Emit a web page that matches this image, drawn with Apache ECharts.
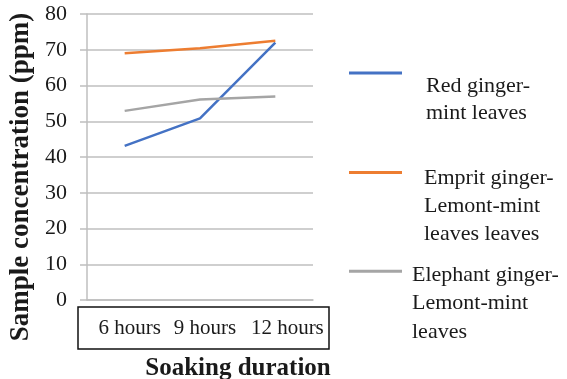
<!DOCTYPE html>
<html>
<head>
<meta charset="utf-8">
<script src="https://cdn.jsdelivr.net/npm/echarts@6/dist/echarts.min.js"></script>
<style>html,body{margin:0;padding:0;background:#fff}#c{width:567px;height:379px}</style>
</head>
<body>
<div id="c"></div>
<script>
var categories = ['6 hours', '9 hours', '12 hours'];
var seriesNames = ['Red ginger-\nmint leaves', 'Emprit ginger-\nLemont-mint\nleaves leaves', 'Elephant ginger-\nLemont-mint\nleaves'];
var redGinger = [43.1, 50.8, 72.0];
var empritGinger = [69.0, 70.4, 72.5];
var elephantGinger = [52.9, 56.1, 56.9];
var yTicks = [0, 10, 20, 30, 40, 50, 60, 70, 80];

var FONT = 'Liberation Serif';
var colors = ['#4472c4', '#ed7d31', '#a5a5a5'];
var chart = echarts.init(document.getElementById('c'), null, {renderer: 'canvas'});

function legendCfg(name, top, shift, padLeft, lh) {
  return {
    data: [name], left: 349, top: top, padding: 0, orient: 'vertical',
    icon: 'rect', itemWidth: 53, itemHeight: 3,
    formatter: function (n) {
      return '{s|}\n' + n.split('\n').map(function (l) { return '{t|' + l + '}'; }).join('\n');
    },
    textStyle: {
      fontFamily: FONT, fontSize: 22, color: '#1a1a1a',
      rich: {
        s: {lineHeight: shift * 2, fontSize: 1, padding: [0, 0, 0, padLeft]},
        t: {fontFamily: FONT, fontSize: 22, color: '#1a1a1a', lineHeight: lh, padding: [0, 0, 0, padLeft]}
      }
    }
  };
}

chart.setOption({
  animation: false,
  color: colors,
  grid: {left: 87, right: 254, top: 14, bottom: 79, outerBoundsMode: 'none', containLabel: false},
  legend: [
    legendCfg(seriesNames[0], 45.5, 26.5, 19, 27),
    legendCfg(seriesNames[1], 130, 34, 17, 28),
    legendCfg(seriesNames[2], 228, 32, 5, 28.5)
  ],
  xAxis: {
    type: 'category', data: categories.map(function (c, i) {
      return {value: c, textStyle: {padding: [0, 0, 0, i === 2 ? 24 : 10]}};
    }),
    boundaryGap: true,
    axisLine: {show: true, lineStyle: {color: '#bfbfbf', width: 1.5}},
    axisTick: {show: false},
    axisLabel: {fontFamily: FONT, fontSize: 21, color: '#1a1a1a', margin: 18, interval: 0},
    name: 'Soaking duration', nameLocation: 'middle', nameGap: 56,
    nameTextStyle: {fontFamily: FONT, fontSize: 25, fontWeight: 'bold', color: '#1a1a1a', padding: [0, 0, 0, 76]}
  },
  yAxis: {
    type: 'value', min: yTicks[0], max: yTicks[yTicks.length - 1], interval: 10,
    axisLine: {show: true, lineStyle: {color: '#bfbfbf', width: 1.5}},
    axisTick: {show: true, length: 7, lineStyle: {color: '#bfbfbf', width: 1.5}},
    splitLine: {show: true, lineStyle: {color: '#bfbfbf', width: 1.5}},
    axisLabel: {fontFamily: FONT, fontSize: 22, color: '#1a1a1a', margin: 20},
    name: 'Sample concentration (ppm)', nameLocation: 'middle', nameGap: 52,
    nameTextStyle: {fontFamily: FONT, fontSize: 27, fontWeight: 'bold', color: '#1a1a1a', padding: [0, 40, 0, 0]}
  },
  graphic: [{
    type: 'rect', silent: true,
    shape: {x: 78, y: 307, width: 251, height: 42},
    style: {fill: 'none', stroke: '#111', lineWidth: 1.5}
  }],
  series: [
    {name: seriesNames[0], type: 'line', data: redGinger, symbol: 'none', lineStyle: {width: 2.5}},
    {name: seriesNames[1], type: 'line', data: empritGinger, symbol: 'none', lineStyle: {width: 2.5}},
    {name: seriesNames[2], type: 'line', data: elephantGinger, symbol: 'none', lineStyle: {width: 2.5}}
  ]
});
</script>
</body>
</html>
